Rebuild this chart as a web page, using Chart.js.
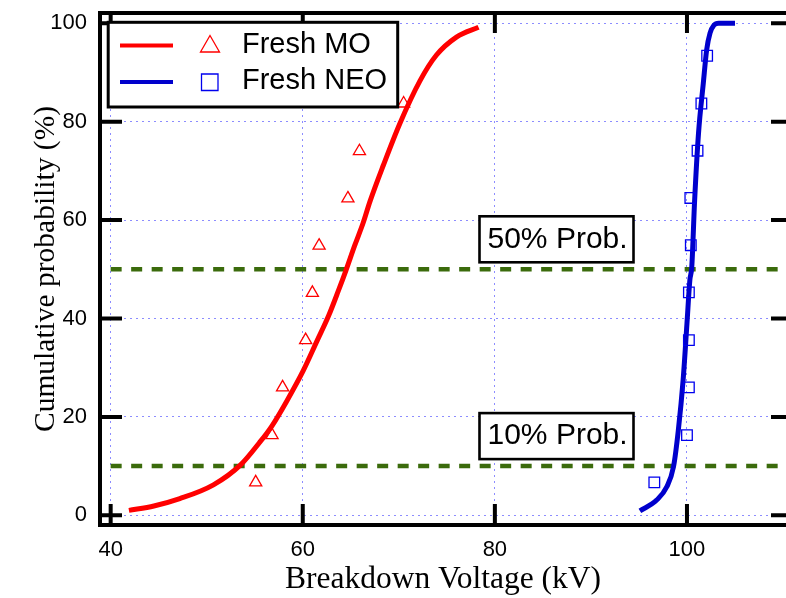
<!DOCTYPE html>
<html lang="en">
<head>
<meta charset="UTF-8">
<title>Breakdown Voltage</title>
<script src="https://cdn.jsdelivr.net/npm/chart.js@4"></script>
<style>
  html, body { margin: 0; padding: 0; background: #fff; }
</style>
</head>
<body>
<canvas id="bd" width="786" height="598"></canvas>
<script>
// axis ticks
const xTicks = [40, 60, 80, 100];
const yTicks = [0, 20, 40, 60, 80, 100];

// fitted cumulative curves
const moFitKv  = [41.9, 44.5, 47.2, 50.7, 53.5, 55.5, 56.8, 58.3, 60.05, 61.45, 62.7, 63.7, 64.5, 65.4, 66.3, 67.0, 68.4, 70.1, 72.2, 73.9, 76.0, 78.3];
const moFitPct = [1.0, 1.9, 3.4, 6.2, 10.2, 14.8, 18.2, 23.1, 29.4, 35.3, 40.6, 45.6, 49.8, 54.8, 59.5, 63.8, 71.2, 79.6, 88.3, 93.5, 97.2, 99.2];
const neoFitKv  = [95.1, 96.85, 97.9, 98.6, 99.1, 99.6, 100.0, 100.3, 100.5, 100.8, 101.2, 101.7, 102.05, 102.4, 102.8, 103.3, 105.0];
const neoFitPct = [0.9, 3.1, 5.8, 9.9, 17.3, 27.5, 39.0, 47.8, 50.5, 64.1, 77.6, 87.8, 94.6, 98.0, 99.6, 100.0, 100.0];

// measured points
const moKv  = [55.1, 56.8, 57.9, 60.3, 61.0, 61.7, 64.7, 65.9, 70.5];
const moPct = [6.7, 16.3, 26.0, 35.6, 45.2, 54.8, 64.4, 74.0, 83.7];
const neoKv  = [96.6, 100.0, 100.2, 100.2, 100.2, 100.4, 100.35, 101.1, 101.5, 102.1];
const neoPct = [6.7, 16.3, 26.0, 35.6, 45.3, 54.9, 64.5, 74.1, 83.7, 93.4];

// probability reference lines
const probLevels = [10, 50];
const probLabels = ['10% Prob.', '50% Prob.'];
const probSpanKv = [40, 110];

const legendNames = ['Fresh MO', 'Fresh NEO'];

const SANS = "'Liberation Sans', Arial, sans-serif";
const SERIF = "'Liberation Serif', 'Times New Roman', serif";
const GRID = 'rgba(120,120,255,0.85)';

function pts(xs, ys) {
  return xs.map((v, i) => ({ x: v, y: ys[i] }));
}

function drawBoxes(ctx, x, y) {
  ctx.font = '30px ' + SANS;
  ctx.textBaseline = 'middle';
  ctx.textAlign = 'left';
  probLevels.forEach((lvl, i) => {
    const cy = y.getPixelForValue(lvl) - 30;
    const left = 479.5, w = 154, h = 46;
    ctx.fillStyle = '#fff';
    ctx.fillRect(left, cy - h / 2, w, h);
    ctx.lineWidth = 2.6;
    ctx.strokeStyle = '#000';
    ctx.strokeRect(left, cy - h / 2, w, h);
    ctx.fillStyle = '#000';
    ctx.fillText(probLabels[i], left + 8, cy);
  });
}

function drawFrame(ctx, a, x, y) {
  ctx.strokeStyle = '#000';
  ctx.lineWidth = 4;
  ctx.beginPath();
  xTicks.forEach(v => {
    const px = x.getPixelForValue(v);
    ctx.moveTo(px, a.bottom); ctx.lineTo(px, a.bottom - 21);
    ctx.moveTo(px, a.top); ctx.lineTo(px, a.top + 20);
  });
  yTicks.forEach(v => {
    const py = y.getPixelForValue(v);
    ctx.moveTo(a.left, py); ctx.lineTo(a.left + 22, py);
    ctx.moveTo(a.right, py); ctx.lineTo(a.right - 15, py);
  });
  ctx.stroke();
  ctx.beginPath();
  ctx.moveTo(a.right + 4, a.top);
  ctx.lineTo(a.left, a.top);
  ctx.lineTo(a.left, a.bottom);
  ctx.lineTo(a.right + 4, a.bottom);
  ctx.stroke();
}

function drawLegend(ctx) {
  ctx.fillStyle = '#fff';
  ctx.fillRect(108, 22, 290, 85);
  ctx.lineWidth = 3;
  ctx.strokeStyle = '#000';
  ctx.strokeRect(108.2, 22.3, 289.5, 84.7);

  const rows = [45.5, 82];
  const lineCols = ['#ff0000', '#0000cc'];
  rows.forEach((ry, i) => {
    ctx.strokeStyle = lineCols[i];
    ctx.lineWidth = 4;
    ctx.beginPath();
    ctx.moveTo(120, ry); ctx.lineTo(173, ry);
    ctx.stroke();
    ctx.lineWidth = 1.3;
    ctx.beginPath();
    if (i === 0) {
      ctx.strokeStyle = '#ff0000';
      ctx.moveTo(210, ry - 10); ctx.lineTo(219.5, ry + 6.5); ctx.lineTo(200.5, ry + 6.5); ctx.closePath();
    } else {
      ctx.strokeStyle = '#0000ee';
      ctx.rect(201.5, ry - 8, 16.5, 16.5);
    }
    ctx.stroke();
    ctx.fillStyle = '#000';
    ctx.font = '29px ' + SANS;
    ctx.textBaseline = 'middle';
    ctx.textAlign = 'left';
    ctx.fillText(legendNames[i], 242, ry - 1);
  });
}

const overlay = {
  id: 'overlay',
  afterDatasetsDraw(chart) {
    const { ctx, chartArea, scales } = chart;
    ctx.save();
    drawBoxes(ctx, scales.x, scales.y);
    drawFrame(ctx, chartArea, scales.x, scales.y);
    drawLegend(ctx);
    ctx.restore();
  }
};

const probSets = probLevels.map(lvl => ({
  data: pts(probSpanKv, [lvl, lvl]),
  showLine: true,
  borderColor: '#3b6b0c',
  borderWidth: 4.5,
  borderDash: [11, 9.5],
  pointRadius: 0,
  order: 5
}));

new Chart(document.getElementById('bd'), {
  type: 'scatter',
  data: {
    datasets: [
      ...probSets,
      {
        data: pts(moFitKv, moFitPct),
        showLine: true,
        borderColor: '#ff0000',
        borderWidth: 5,
        cubicInterpolationMode: 'monotone',
        pointRadius: 0,
        order: 3
      },
      {
        data: pts(neoFitKv, neoFitPct),
        showLine: true,
        borderColor: '#0000cc',
        borderWidth: 5,
        cubicInterpolationMode: 'monotone',
        pointRadius: 0,
        order: 3
      },
      {
        data: pts(moKv, moPct),
        pointStyle: 'triangle',
        pointRadius: 7,
        borderWidth: 1.3,
        borderColor: '#ff0000',
        backgroundColor: 'rgba(0,0,0,0)',
        order: 1
      },
      {
        data: pts(neoKv, neoPct),
        pointStyle: 'rect',
        pointRadius: 7.5,
        borderWidth: 1.3,
        borderColor: '#0000ee',
        backgroundColor: 'rgba(0,0,0,0)',
        order: 1
      }
    ]
  },
  options: {
    responsive: false,
    animation: false,
    devicePixelRatio: 1,
    layout: { padding: { top: 13, right: 0, bottom: 0, left: 0 }, autoPadding: false },
    plugins: { legend: { display: false }, tooltip: { enabled: false } },
    scales: {
      x: {
        type: 'linear',
        min: 38.89,
        max: 110.31,
        afterBuildTicks: s => { s.ticks = xTicks.map(v => ({ value: v })); },
        afterFit: s => { s.height = 73; s.paddingLeft = 0; s.paddingRight = 0; },
        grid: { color: GRID, lineWidth: 1, drawTicks: false },
        border: { display: false, dash: [2, 4] },
        ticks: { padding: 12, color: '#000', autoSkip: false, maxRotation: 0, font: { family: SANS, size: 22 } },
        title: { display: true, text: 'Breakdown Voltage (kV)', color: '#000', font: { family: SERIF, size: 31.5 }, padding: { top: 0, bottom: -1 } }
      },
      y: {
        type: 'linear',
        min: -1.97,
        max: 102.09,
        afterBuildTicks: s => { s.ticks = yTicks.map(v => ({ value: v })); },
        afterFit: s => { s.width = 100; s.paddingTop = 0; s.paddingBottom = 0; },
        grid: { color: GRID, lineWidth: 1, drawTicks: false },
        border: { display: false, dash: [2, 4] },
        ticks: { padding: 13, color: '#000', font: { family: SANS, size: 22 } },
        title: { display: true, text: 'Cumulative probability (%)', color: '#000', font: { family: SERIF, size: 29.5 }, padding: { top: 29, bottom: 0 } }
      }
    }
  },
  plugins: [overlay]
});
</script>
</body>
</html>
